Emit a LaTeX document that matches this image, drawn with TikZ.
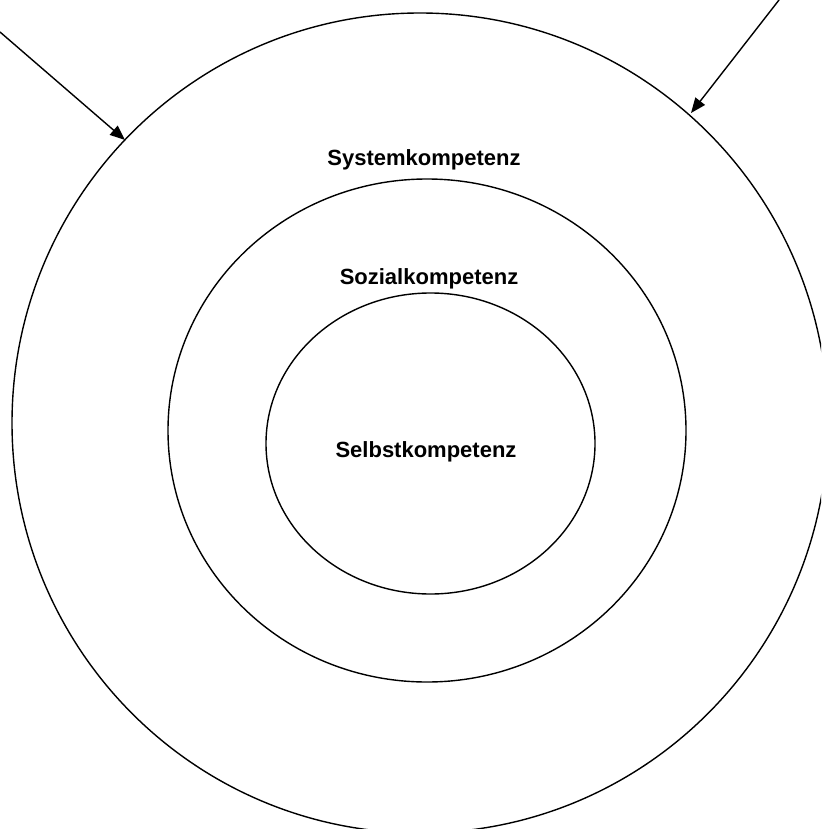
\documentclass[tikz,border=0pt]{standalone}
\usepackage{fontspec}
\setmainfont{Liberation Sans}
\usetikzlibrary{arrows.meta,shapes.geometric}
\begin{document}
\begin{tikzpicture}[x=1pt,y=-1pt,
 ring/.style={draw, line width=1.4pt, ellipse, inner sep=0pt},
 lbl/.style={font=\fontsize{22}{26}\selectfont\bfseries, anchor=base, inner sep=0pt},
 arr/.style={line width=1.4pt, -{Triangle[length=15pt,width=12pt]}}]
\useasboundingbox (0,0) rectangle (821,829);
\clip (0,0) rectangle (821,829);
\fill[white] (0,0) rectangle (821,829);
\node[ring, minimum width=816pt, minimum height=820pt] (outer) at (420,423) {};
\node[ring, minimum width=518pt, minimum height=503pt] (middle) at (427,430.5) {};
\node[ring, minimum width=329pt, minimum height=301pt] (inner) at (430.5,443.5) {};
\node[lbl] (sys) at (424,166) {Systemkompetenz};
\node[lbl] (soz) at (429,284) {Sozialkompetenz};
\node[lbl] (sel) at (426,457) {Selbstkompetenz};
\coordinate (a1s) at (0,32);
\coordinate (a1e) at (125,140);
\coordinate (a2s) at (779,0);
\coordinate (a2e) at (691,113);
\draw[arr] (a1s) -- (a1e);
\draw[arr] (a2s) -- (a2e);
\end{tikzpicture}
\end{document}
